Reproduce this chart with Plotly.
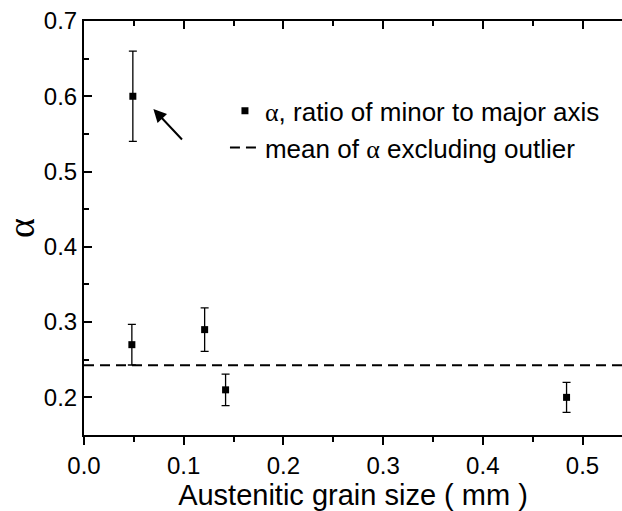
import plotly.graph_objects as go

# data
grain_size = [0.049, 0.048, 0.121, 0.142, 0.484]
alpha = [0.60, 0.27, 0.29, 0.21, 0.20]
alpha_err = [0.06, 0.027, 0.029, 0.021, 0.02]
outlier_index = 0
inliers = [a for i, a in enumerate(alpha) if i != outlier_index]
mean_alpha = sum(inliers) / len(inliers)

x_range = [0.0, 0.5396]
y_range = [0.15, 0.7]

FONT = "Liberation Sans, Arial, sans-serif"
ALPHA = "<span style='font-family:Liberation Serif'>α</span>"

fig = go.Figure()

fig.add_trace(go.Scatter(
    x=grain_size, y=alpha, mode="markers",
    marker=dict(symbol="square", size=7, color="black"),
    error_y=dict(type="data", array=alpha_err, visible=True,
                 color="black", thickness=1.3, width=4),
    name=ALPHA + ", ratio of minor to major axis",
))
fig.add_trace(go.Scatter(
    x=x_range, y=[mean_alpha, mean_alpha], mode="lines",
    line=dict(color="black", width=2, dash="10px,6px"),
    name="mean of " + ALPHA + " excluding outlier",
))
# invisible trace for top axis
fig.add_trace(go.Scatter(x=x_range, y=[mean_alpha, mean_alpha], xaxis="x2",
                         mode="lines", line=dict(width=0), showlegend=False,
                         hoverinfo="skip"))

fig.add_annotation(
    x=0.0696, y=0.583, ax=0.0997, ay=0.5406, xref="x", yref="y",
    axref="x", ayref="y", showarrow=True, arrowhead=2, arrowsize=1.3,
    arrowwidth=2, arrowcolor="black", text="",
)

fig.update_layout(
    width=622, height=511,
    margin=dict(l=84, r=0, t=21, b=76),
    paper_bgcolor="white", plot_bgcolor="white",
    font=dict(family=FONT, size=24, color="black"),
    showlegend=True,
    legend=dict(x=0.262, y=0.84, xanchor="left", yanchor="top",
                bgcolor="rgba(0,0,0,0)", font=dict(size=26),
                itemwidth=30, tracegroupgap=0),
    xaxis=dict(range=x_range, showline=True, linecolor="black", linewidth=2,
               ticks="outside", ticklen=8, tickwidth=1.5, tickcolor="black",
               dtick=0.1, tickformat=".1f", showgrid=False, zeroline=False,
               minor=dict(ticks="outside", ticklen=5, tickwidth=1.5,
                          tickcolor="black", dtick=0.05, showgrid=False),
               title=dict(text="Austenitic grain size ( mm )", font=dict(size=29),
                          standoff=8)),
    xaxis2=dict(range=x_range, overlaying="x", side="top", showline=True,
                linecolor="black", linewidth=2, ticks="inside", ticklen=8,
                tickwidth=1.5, tickcolor="black", dtick=0.1,
                showticklabels=False, showgrid=False, zeroline=False,
                minor=dict(ticks="inside", ticklen=5, tickwidth=1.5,
                           tickcolor="black", dtick=0.05, showgrid=False)),
    yaxis=dict(range=y_range, showline=True, linecolor="black", linewidth=2,
               ticks="inside", ticklen=8, tickwidth=1.5, tickcolor="black",
               dtick=0.1, tickformat=".1f", showgrid=False, zeroline=False,
               minor=dict(ticks="inside", ticklen=5, tickwidth=1.5,
                          tickcolor="black", dtick=0.05, showgrid=False),
               title=dict(text="α", font=dict(size=38, family="Liberation Serif"),
                          standoff=2)),
)

fig.write_html("out.html")
